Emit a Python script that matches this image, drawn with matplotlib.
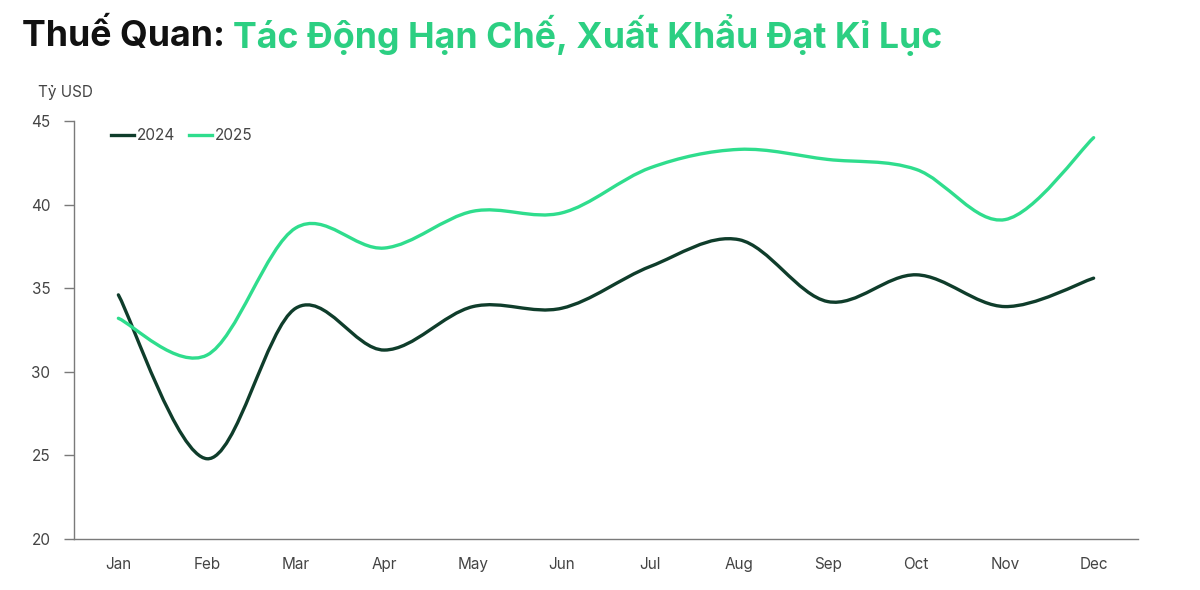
import numpy as np
import matplotlib
matplotlib.use("Agg")
import matplotlib.pyplot as plt
from matplotlib.path import Path
from matplotlib.patches import PathPatch
from matplotlib.lines import Line2D

months = ['Jan', 'Feb', 'Mar', 'Apr', 'May', 'Jun',
          'Jul', 'Aug', 'Sep', 'Oct', 'Nov', 'Dec']
exports_2024 = [34.6, 24.8, 33.8, 31.3, 33.9, 33.8, 36.3, 37.9, 34.2, 35.8, 33.9, 35.6]
exports_2025 = [33.2, 31.0, 38.6, 37.4, 39.6, 39.5, 42.2, 43.3, 42.7, 42.1, 39.1, 44.0]
y_ticks = [20, 25, 30, 35, 40, 45]

COLOR_2024 = '#0f3d2b'
COLOR_2025 = '#2fdd8d'
TITLE_GREEN = '#2ccf82'
TEXT_GRAY = '#444444'

plt.rcParams['font.family'] = ['Inter', 'DejaVu Sans']


def smooth_path(xs, ys):
    """Bezier path through the points (Excel-like smoothed line)."""
    pts = np.column_stack([xs, ys]).astype(float)
    verts = [pts[0]]
    codes = [Path.MOVETO]
    n = len(pts)
    t = 1.0 / 6.0
    for i in range(n - 1):
        p0 = pts[i - 1] if i > 0 else pts[i]
        p1 = pts[i]
        p2 = pts[i + 1]
        p3 = pts[i + 2] if i + 2 < n else pts[i + 1]
        c1 = p1 + (p2 - p0) * t
        c2 = p2 - (p3 - p1) * t
        verts += [c1, c2, p2]
        codes += [Path.CURVE4] * 3
    return Path(verts, codes)


fig = plt.figure(figsize=(12, 5.9), dpi=100)
ax = fig.add_axes([0.0617, 0.0864, 0.8866, 0.7086])

x = np.arange(len(months))
for vals, color in [(exports_2024, COLOR_2024), (exports_2025, COLOR_2025)]:
    patch = PathPatch(smooth_path(x, vals), facecolor='none', edgecolor=color,
                      lw=2.4, capstyle='round', joinstyle='round')
    ax.add_patch(patch)

ax.set_xlim(-0.5, 11.5)
ax.set_ylim(20, 45)
ax.set_xticks(x)
ax.set_xticklabels(months)
ax.set_yticks(y_ticks)

for s in ['top', 'right']:
    ax.spines[s].set_visible(False)
for s in ['left', 'bottom']:
    ax.spines[s].set_color('#7a7a7a')
    ax.spines[s].set_linewidth(1.0)

ax.tick_params(axis='x', length=0, pad=13, labelsize=11, labelcolor=TEXT_GRAY)
ax.tick_params(axis='y', length=7, width=1.0, color='#7a7a7a', pad=10,
               labelsize=11, labelcolor=TEXT_GRAY)

handles = [Line2D([], [], color=COLOR_2024, lw=2.4),
           Line2D([], [], color=COLOR_2025, lw=2.4)]
ax.legend(handles, ['2024', '2025'], loc='upper left', bbox_to_anchor=(0.022, 1.015),
          ncol=2, frameon=False, fontsize=11, handlelength=1.5, handletextpad=0.2,
          columnspacing=0.9, labelcolor=TEXT_GRAY)

fig.text(0.032, 0.843, 'Tỷ USD', fontsize=11, color=TEXT_GRAY, va='center')

t1 = fig.text(0.018, 0.94, 'Thuế Quan: ', fontsize=25.7, fontweight='bold',
              color='#111111', va='center')
fig.canvas.draw()
bb = t1.get_window_extent()
fig.text(bb.x1 / fig.bbox.width, 0.94, 'Tác Động Hạn Chế, Xuất Khẩu Đạt Kỉ Lục',
         fontsize=25.7, fontweight='bold', color=TITLE_GREEN, va='center')

fig.savefig('out.png', dpi=100)
